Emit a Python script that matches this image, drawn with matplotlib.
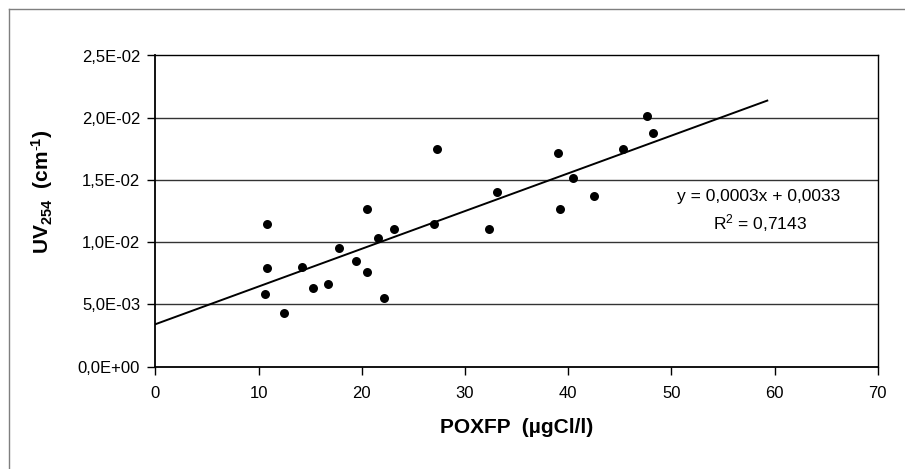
import matplotlib
matplotlib.use("Agg")
import matplotlib.pyplot as plt
import numpy as np
from matplotlib.lines import Line2D

plt.rcParams['font.family'] = ['Liberation Sans', 'DejaVu Sans']
plt.rcParams['mathtext.fontset'] = 'custom'
plt.rcParams['mathtext.rm'] = 'Liberation Sans'
plt.rcParams['mathtext.bf'] = 'Liberation Sans:bold'
plt.rcParams['mathtext.it'] = 'Liberation Sans:italic'

# data
poxfp = [10.78, 10.78, 10.62, 12.46, 14.17, 15.24, 16.75, 17.81, 19.43, 20.52,
         20.52, 21.59, 22.14, 23.11, 26.98, 27.30, 33.11, 32.33, 39.05, 39.18,
         40.46, 42.54, 45.31, 47.67, 48.21]
uv254 = [0.01144, 0.00791, 0.00584, 0.00433, 0.00803, 0.00633, 0.00663, 0.00954,
         0.00852, 0.01265, 0.00761, 0.01032, 0.00555, 0.01104, 0.01144, 0.01751,
         0.01404, 0.01104, 0.01713, 0.01265, 0.01513, 0.01374, 0.01751, 0.02014,
         0.01874]
fit_slope = 0.000303
fit_intercept = 0.00341
fit_x_range = [0.0, 59.3]

x_ticks = [0, 10, 20, 30, 40, 50, 60, 70]
y_ticks = [0.0, 0.005, 0.010, 0.015, 0.020, 0.025]
y_tick_labels = ['0,0E+00', '5,0E-03', '1,0E-02', '1,5E-02', '2,0E-02', '2,5E-02']

eq_text = 'y = 0,0003x + 0,0033'
r2_text = 'R$^2$ = 0,7143'
xlabel = 'POXFP  (µgCl/l)'
ylabel = r'$\mathbf{UV_{254}}$  $\mathbf{(cm^{\text{-}1})}$'

W, H = 905, 469
fig = plt.figure(figsize=(W / 100, H / 100), dpi=100)
fig.patch.set_facecolor('white')

# outer chart border (only top/left visible)
fig.add_artist(Line2D([9 / W, 9 / W], [0, 1 - 9 / H], transform=fig.transFigure,
                      color='#7f7f7f', lw=1.0))
fig.add_artist(Line2D([9 / W, 1], [1 - 9 / H, 1 - 9 / H], transform=fig.transFigure,
                      color='#7f7f7f', lw=1.0))

left, right = 155.3 / W, 877.7 / W
bottom, top = 1 - 366.7 / H, 1 - 55.5 / H
ax = fig.add_axes([left, bottom, right - left, top - bottom])

ax.set_xlim(0, 70)
ax.set_ylim(0, 0.025)
ax.set_xticks(x_ticks)
ax.set_xticklabels([str(v) for v in x_ticks])
ax.set_yticks(y_ticks)
ax.set_yticklabels(y_tick_labels)
ax.tick_params(axis='both', direction='out', length=6, width=1, color='black',
               labelsize=12, pad=5)
ax.tick_params(axis='x', pad=8)

for y in y_ticks[1:-1]:
    ax.axhline(y, color='#333333', lw=1.0, zorder=1)

for s in ax.spines.values():
    s.set_color('black')
    s.set_linewidth(1.0)
ax.spines['left'].set_linewidth(1.3)
ax.spines['bottom'].set_linewidth(1.3)

ax.scatter(poxfp, uv254, s=42, color='black', zorder=3, linewidths=0)

fx = np.array(fit_x_range)
ax.plot(fx, fit_slope * fx + fit_intercept, color='black', lw=1.4, zorder=2)

ax.text((759 - 155.3) / (877.7 - 155.3), (366.7 - 197) / (366.7 - 55.5), eq_text,
        transform=ax.transAxes, ha='center', va='center', fontsize=12.5)
ax.text((760 - 155.3) / (877.7 - 155.3), (366.7 - 223) / (366.7 - 55.5), r2_text,
        transform=ax.transAxes, ha='center', va='center', fontsize=12.5)

fig.text(516.5 / W, 1 - 427 / H, xlabel, ha='center', va='center',
         fontsize=15, fontweight='bold')
fig.text(42 / W, 1 - 192 / H, ylabel, ha='center', va='center',
         fontsize=15, rotation=90)

fig.savefig('out.png', dpi=100, facecolor='white')
